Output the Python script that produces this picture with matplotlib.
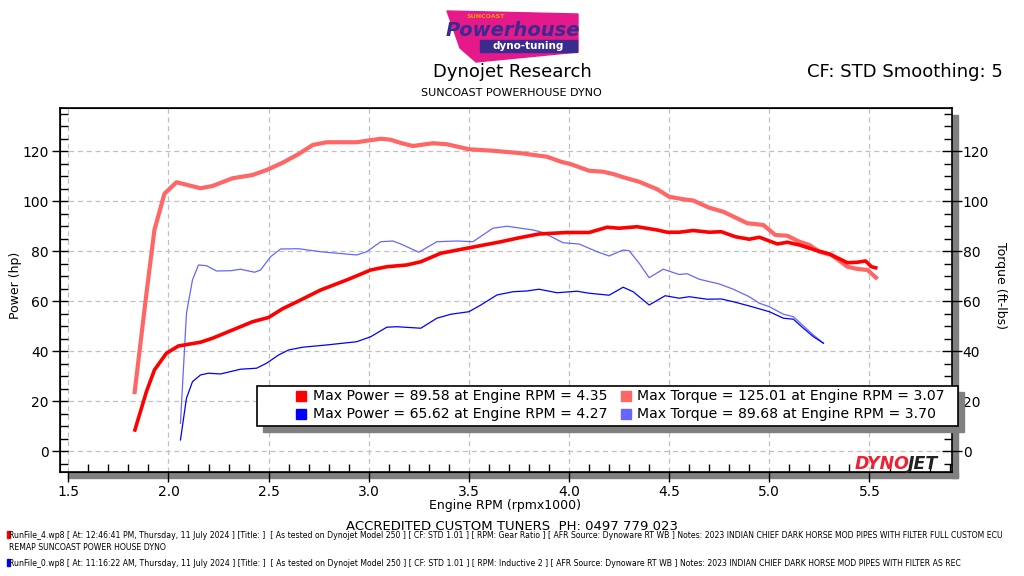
import numpy as np
import matplotlib
matplotlib.use('Agg')
import matplotlib.pyplot as plt
from matplotlib.patches import Rectangle, Polygon
from matplotlib.ticker import MultipleLocator

# run 4 (red) - power
rpm4_pwr = [1.83, 1.89, 1.93, 1.99, 2.05, 2.16, 2.22, 2.32, 2.42, 2.50, 2.57, 2.65, 2.76, 2.89,
            3.01, 3.09, 3.19, 3.26, 3.36, 3.49, 3.66, 3.74, 3.85, 3.99, 4.10, 4.19, 4.25, 4.34,
            4.44, 4.49, 4.55, 4.62, 4.70, 4.76, 4.83, 4.90, 4.95, 5.04, 5.09, 5.15, 5.24, 5.30,
            5.39, 5.44, 5.48, 5.51, 5.54]
pwr4 = [7.8, 23.8, 32.5, 39.2, 42.1, 43.6, 45.2, 48.5, 51.8, 53.5, 57.0, 60.1, 64.5, 68.5,
        72.5, 73.8, 74.5, 75.8, 79.2, 81.2, 83.8, 85.2, 86.9, 87.5, 87.5, 89.6, 89.2, 89.8,
        88.5, 87.6, 87.6, 88.3, 87.6, 87.8, 85.8, 84.8, 85.6, 82.9, 83.6, 82.5, 80.2, 78.9,
        75.4, 75.6, 76.1, 73.8, 73.2]

# run 4 - torque
rpm4_trq = [1.83, 1.89, 1.93, 1.98, 2.04, 2.16, 2.22, 2.32, 2.42, 2.49, 2.57, 2.65, 2.72, 2.79,
            2.94, 2.99, 3.06, 3.11, 3.16, 3.22, 3.32, 3.39, 3.50, 3.62, 3.76, 3.89, 3.96, 4.01,
            4.10, 4.17, 4.22, 4.27, 4.35, 4.44, 4.50, 4.57, 4.62, 4.65, 4.70, 4.77, 4.89, 4.97,
            5.03, 5.09, 5.15, 5.20, 5.25, 5.31, 5.39, 5.44, 5.49, 5.54]
trq4 = [22.8, 63.0, 88.5, 103.0, 107.6, 105.2, 106.1, 109.2, 110.5, 112.5, 115.4, 118.9, 122.5, 123.6,
        123.6, 124.2, 125.0, 124.6, 123.3, 122.1, 123.2, 122.8, 120.8, 120.2, 119.2, 117.8, 115.8, 114.8,
        112.2, 111.8, 110.9, 109.6, 107.8, 104.8, 101.8, 100.8, 100.3, 99.2, 97.4, 95.8, 91.2, 90.5,
        86.5, 86.2, 83.8, 82.5, 79.8, 78.5, 73.8, 72.9, 72.5, 68.9]

# run 0 (blue) - power
rpm0_pwr = [2.06, 2.09, 2.12, 2.16, 2.20, 2.26, 2.36, 2.44, 2.49, 2.55, 2.60, 2.67, 2.79, 2.94,
            3.01, 3.09, 3.14, 3.26, 3.34, 3.41, 3.50, 3.56, 3.64, 3.72, 3.79, 3.85, 3.94, 4.04,
            4.10, 4.20, 4.27, 4.32, 4.40, 4.48, 4.55, 4.60, 4.69, 4.76, 4.82, 4.90, 4.97, 5.00,
            5.07, 5.12, 5.17, 5.22, 5.27]
pwr0 = [4.5, 21.2, 27.8, 30.5, 31.2, 30.9, 32.8, 33.2, 35.2, 38.5, 40.5, 41.6, 42.5, 43.8,
        45.8, 49.6, 49.8, 49.2, 53.2, 54.8, 55.8, 58.5, 62.5, 63.8, 64.1, 64.8, 63.4, 64.0,
        63.2, 62.4, 65.6, 63.8, 58.5, 62.2, 61.2, 61.8, 60.8, 60.9, 59.8, 58.1, 56.5, 55.8,
        53.2, 52.8, 49.2, 45.8, 43.2]

# run 0 - torque
rpm0_trq = [2.06, 2.09, 2.12, 2.15, 2.19, 2.24, 2.31, 2.36, 2.43, 2.46, 2.51, 2.56, 2.65, 2.76,
            2.94, 2.99, 3.06, 3.12, 3.16, 3.25, 3.34, 3.44, 3.52, 3.62, 3.69, 3.82, 3.87, 3.97,
            4.05, 4.14, 4.20, 4.27, 4.30, 4.35, 4.40, 4.47, 4.55, 4.59, 4.65, 4.75, 4.82, 4.90,
            4.95, 5.00, 5.07, 5.12, 5.17, 5.22, 5.27]
trq0 = [11.2, 55.2, 68.5, 74.5, 74.2, 72.1, 72.2, 72.8, 71.6, 72.5, 77.8, 80.9, 81.0, 79.8,
        78.5, 79.8, 83.8, 84.1, 82.9, 79.6, 83.8, 84.1, 83.8, 89.2, 90.0, 88.5, 87.5, 83.4,
        82.9, 79.8, 78.1, 80.5, 80.2, 75.2, 69.4, 72.8, 70.7, 71.0, 68.8, 66.9, 64.8, 61.8,
        59.2, 57.8, 54.8, 53.8, 50.1, 46.5, 43.2]

legend_txt = ['Max Power = 89.58 at Engine RPM = 4.35', 'Max Torque = 125.01 at Engine RPM = 3.07',
              'Max Power = 65.62 at Engine RPM = 4.27', 'Max Torque = 89.68 at Engine RPM = 3.70']

note1 = ('RunFile_4.wp8 [ At: 12:46:41 PM, Thursday, 11 July 2024 ] [Title: ]  [ As tested on Dynojet Model 250 ] '
         '[ CF: STD 1.01 ] [ RPM: Gear Ratio ] [ AFR Source: Dynoware RT WB ] Notes: 2023 INDIAN CHIEF DARK HORSE '
         'MOD PIPES WITH FILTER FULL CUSTOM ECU')
note1b = 'REMAP SUNCOAST POWER HOUSE DYNO'
note2 = ('RunFile_0.wp8 [ At: 11:16:22 AM, Thursday, 11 July 2024 ] [Title: ]  [ As tested on Dynojet Model 250 ] '
         '[ CF: STD 1.01 ] [ RPM: Inductive 2 ] [ AFR Source: Dynoware RT WB ] Notes: 2023 INDIAN CHIEF DARK HORSE '
         'MOD PIPES WITH FILTER AS REC')

c_p4, c_t4, c_p0, c_t0 = '#ff0000', '#ff6666', '#0000ff', '#6666ff'

W, H = 1024, 576
fig = plt.figure(figsize=(W/100, H/100), dpi=100)

def fx(px):
    return px / W

def fy(py):
    return 1 - py / H

ax = fig.add_axes([fx(60), fy(471.7), fx(951.7) - fx(60), fy(108) - fy(471.7)])
ax.set_xlim(1.4586, 5.9104)
ax.set_ylim(-8.2, 137.3)

ax.plot(rpm4_trq, trq4, color=c_t4, lw=3.0, solid_capstyle='butt', zorder=3)
ax.plot(rpm4_pwr, pwr4, color=c_p4, lw=2.6, solid_capstyle='butt', zorder=4)
ax.plot(rpm0_trq, trq0, color=c_t0, lw=0.9, zorder=3)
ax.plot(rpm0_pwr, pwr0, color=c_p0, lw=0.9, zorder=3)

ax.xaxis.set_minor_locator(MultipleLocator(0.1))
ax.yaxis.set_minor_locator(MultipleLocator(5))
ax.set_xticks(np.arange(1.5, 5.51, 0.5))
ax.set_xticklabels(['1.5', '2.0', '2.5', '3.0', '3.5', '4.0', '4.5', '5.0', '5.5'])
ax.set_yticks(np.arange(0, 121, 20))
ax.grid(True, which='major', color='#c0c0c0', ls=(0, (4, 3)), lw=0.9)
ax.tick_params(axis='x', which='major', direction='out', length=7.5, width=1, labelsize=10, pad=2)
ax.tick_params(axis='x', which='minor', direction='in', length=6, width=1)
ax.tick_params(axis='y', which='major', direction='inout', length=12, width=1, labelsize=10, pad=2)
ax.tick_params(axis='y', which='minor', direction='in', length=6, width=1)
for s in ax.spines.values():
    s.set_linewidth(1.2)
ax.spines['right'].set_visible(False)

ax2 = ax.twinx()
ax2.set_ylim(ax.get_ylim())
ax2.yaxis.set_minor_locator(MultipleLocator(5))
ax2.set_yticks(np.arange(0, 121, 20))
ax2.tick_params(axis='y', which='major', direction='inout', length=14, width=1, labelsize=10, pad=1)
ax2.tick_params(axis='y', which='minor', direction='in', length=6, width=1)
ax2.spines['right'].set_linewidth(1.2)

# drop shadows of the plot frame
fig.patches.append(Rectangle((fx(68), fy(478)), fx(958) - fx(68), fy(472) - fy(478),
                             transform=fig.transFigure, color='#808080', zorder=-1))
fig.patches.append(Rectangle((fx(952), fy(478)), fx(958) - fx(952), fy(115) - fy(478),
                             transform=fig.transFigure, color='#808080', zorder=-1))

fig.text(fx(16), fy(285), 'Power (hp)', rotation=90, ha='center', va='center', fontsize=9)
fig.text(fx(1001), fy(285), 'Torque (ft-lbs)', rotation=270, ha='center', va='center', fontsize=9)
fig.text(fx(505), fy(506), 'Engine RPM (rpmx1000)', ha='center', va='center', fontsize=9)

# header
fig.text(fx(512), fy(72), 'Dynojet Research', ha='center', va='center', fontsize=13)
fig.text(fx(511), fy(93), 'SUNCOAST POWERHOUSE DYNO', ha='center', va='center', fontsize=8)
fig.text(fx(1003), fy(72), 'CF: STD Smoothing: 5', ha='right', va='center', fontsize=13)

# logo (rough)
fig.patches.append(Polygon([(fx(447), fy(11)), (fx(578), fy(14)), (fx(578), fy(52)),
                            (fx(476), fy(62)), (fx(460), fy(48))],
                           closed=True, transform=fig.transFigure, color='#e6198a', zorder=1))
fig.patches.append(Rectangle((fx(480), fy(52)), fx(577) - fx(480), fy(40) - fy(52),
                             transform=fig.transFigure, color='#3a2b8f', zorder=2))
fig.text(fx(528), fy(46), 'dyno-tuning', ha='center', va='center', fontsize=7.5,
         color='white', fontweight='bold', zorder=3)
fig.text(fx(513), fy(30), 'Powerhouse', ha='center', va='center', fontsize=14,
         color='#3a2b8f', fontweight='bold', style='italic', zorder=3)
fig.text(fx(486), fy(16), 'SUNCOAST', ha='center', va='center', fontsize=4.5,
         color='#ff9900', fontweight='bold', zorder=3)

# DYNOJET mark inside the plot
fig.text(fx(910), fy(464), 'DYNO', ha='right', va='center', fontsize=12.5, color='#ee2233',
         fontweight='heavy', style='italic', zorder=5)
fig.text(fx(908), fy(464), 'JET', ha='left', va='center', fontsize=12.5, color='#222222',
         fontweight='heavy', style='italic', zorder=5)

# legend box
fig.patches.append(Rectangle((fx(263), fy(432)), fx(958) - fx(257), fy(386) - fy(426),
                             transform=fig.transFigure, color='#808080', zorder=6))
fig.patches.append(Rectangle((fx(257), fy(426)), fx(958) - fx(257), fy(386) - fy(426),
                             transform=fig.transFigure, facecolor='white', edgecolor='black',
                             lw=1.2, zorder=7))
rows = [396, 414]
cols = [(301, 313), (626, 637)]
cols_c = [[c_p4, c_t4], [c_p0, c_t0]]
for i, yy in enumerate(rows):
    for j, (mx, tx) in enumerate(cols):
        fig.patches.append(Rectangle((fx(mx - 5), fy(yy + 5)), fx(10), fy(0) - fy(10),
                                     transform=fig.transFigure, color=cols_c[i][j], zorder=8))
        fig.text(fx(tx), fy(yy), legend_txt[2 * i + j], ha='left', va='center',
                 fontsize=10.1, zorder=9)

# footer
fig.text(fx(512), fy(526), 'ACCREDITED CUSTOM TUNERS  PH: 0497 779 023', ha='center', va='center',
         fontsize=9.5)
fig.patches.append(Rectangle((fx(7), fy(538)), fx(3), fy(531) - fy(538),
                             transform=fig.transFigure, color=c_p4, zorder=3))
fig.patches.append(Rectangle((fx(7), fy(566)), fx(3), fy(559) - fy(566),
                             transform=fig.transFigure, color=c_p0, zorder=3))
fig.text(fx(9), fy(535), note1, ha='left', va='center', fontsize=5.6)
fig.text(fx(9), fy(547), note1b, ha='left', va='center', fontsize=5.6)
fig.text(fx(9), fy(563), note2, ha='left', va='center', fontsize=5.6)

fig.savefig('out.png', dpi=100)
